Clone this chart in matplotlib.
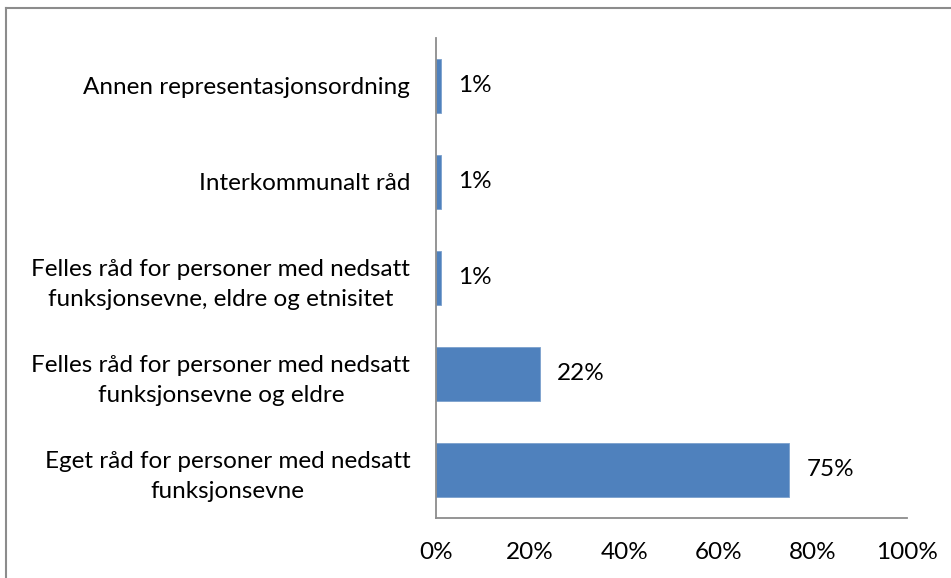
import matplotlib
matplotlib.use("Agg")
import matplotlib.pyplot as plt
from matplotlib.lines import Line2D

categories = [
    "Eget råd for personer med nedsatt\nfunksjonsevne",
    "Felles råd for personer med nedsatt\nfunksjonsevne og eldre",
    "Felles råd for personer med nedsatt\nfunksjonsevne, eldre og etnisitet",
    "Interkommunalt råd",
    "Annen representasjonsordning",
]
values = [75, 22, 1, 1, 1]
value_labels = ["75%", "22%", "1%", "1%", "1%"]
xticks = [0, 20, 40, 60, 80, 100]
xtick_labels = ["0%", "20%", "40%", "60%", "80%", "100%"]

plt.rcParams['font.family'] = ['Lato', 'DejaVu Sans']
FS = 17.5
W, H = 951, 578
fig = plt.figure(figsize=(W / 100, H / 100), dpi=100)
ax = fig.add_axes([436 / W, 1 - 518 / H, (907 - 436) / W, (518 - 38) / H])

ypos = list(range(len(categories)))
ax.barh(ypos, values, height=0.56, color="#4F81BD", edgecolor="#7BA0CD", linewidth=0.6)
ax.set_xlim(0, 100)
ax.set_ylim(-0.5, 4.5)

for y, v, lab in zip(ypos, values, value_labels):
    ax.annotate(lab, xy=(v, y), xytext=(17, 0), textcoords="offset pixels",
                ha="left", va="center", fontsize=FS, color="black")

ax.set_yticks(ypos)
ax.set_yticklabels(categories, fontsize=FS, multialignment="center", linespacing=1.5)
ax.set_xticks(xticks)
ax.set_xticklabels(xtick_labels, fontsize=FS)
ax.tick_params(axis="y", length=0, pad=18.5)
ax.tick_params(axis="x", length=0, pad=17)
for s in ["top", "right"]:
    ax.spines[s].set_visible(False)
for s in ["left", "bottom"]:
    ax.spines[s].set_color("#8C8C8C")
    ax.spines[s].set_linewidth(1.3)

# outer chart frame
fig.add_artist(Line2D([6 / W, 1], [1 - 8 / H, 1 - 8 / H], transform=fig.transFigure,
                      color="#8C8C8C", linewidth=1.5))
fig.add_artist(Line2D([6 / W, 6 / W], [0, 1 - 8 / H], transform=fig.transFigure,
                      color="#8C8C8C", linewidth=1.5))

fig.savefig("out.png", dpi=100)
